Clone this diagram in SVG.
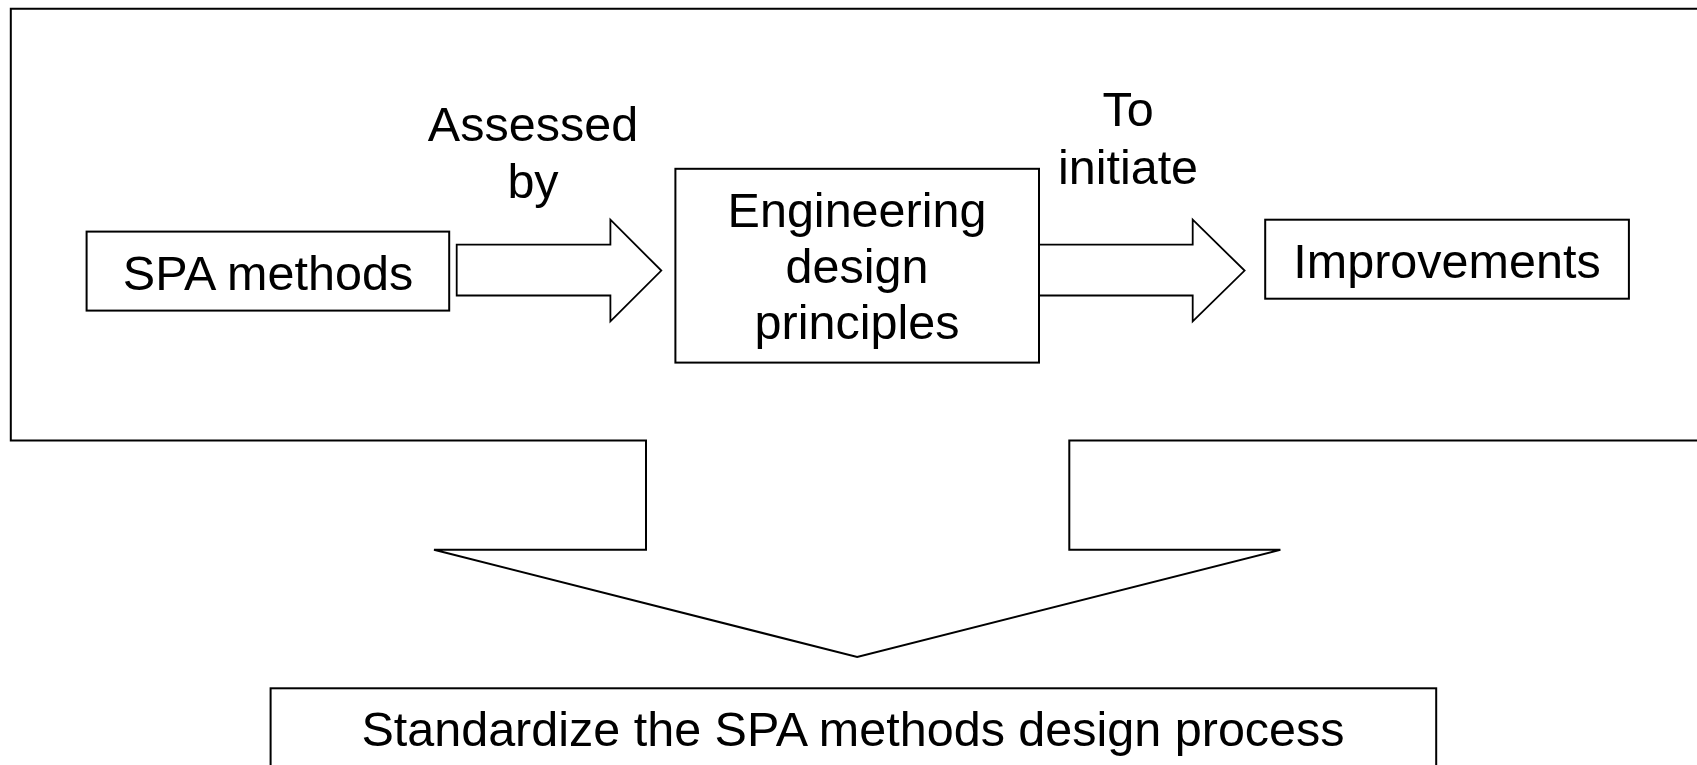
<svg xmlns="http://www.w3.org/2000/svg" width="1697" height="765" viewBox="0 0 1697 765">
  <style>
    .box { fill: #fff; stroke: #000; stroke-width: 2; }
    .arrow { fill: #fff; stroke: #000; stroke-width: 1.8; stroke-linejoin: miter; }
    .lbl { font-family: "Liberation Sans", Arial, sans-serif; font-size: 48.5px; fill: #000; text-anchor: middle; }
  </style>
  <rect width="1697" height="765" fill="#fff"/>

  <!-- outer frame merged with the downward block arrow -->
  <g id="frame">
    <path class="box" d="M646,440.5 H10.8 V8.7 H1720 V440.5 H1069.3 V549.8 H1280.4 L857.2,657 L434,549.8 H646 Z"/>
  </g>

  <!-- block arrows between the nodes -->
  <g id="connectors">
    <path class="arrow" d="M456.7,244.6 H610.4 V219.7 L661.3,270.6 L610.4,321.4 V295.5 H456.7 Z"/>
    <path class="arrow" d="M1039,244.6 H1192.7 V219.7 L1244.6,270.6 L1192.7,321.4 V295.5 H1039"/>
    <text class="lbl" x="533" y="141">Assessed</text>
    <text class="lbl" x="533" y="198">by</text>
    <text class="lbl" x="1128" y="126">To</text>
    <text class="lbl" x="1128" y="184">initiate</text>
  </g>

  <g id="spa-methods">
    <rect class="box" x="86.6" y="231.6" width="362.6" height="79"/>
    <text class="lbl" x="268" y="290">SPA methods</text>
  </g>

  <g id="engineering-principles">
    <rect class="box" x="675.4" y="168.8" width="363.6" height="193.8"/>
    <text class="lbl" x="857" y="227">Engineering</text>
    <text class="lbl" x="857" y="283">design</text>
    <text class="lbl" x="857" y="339">principles</text>
  </g>

  <g id="improvements">
    <rect class="box" x="1265.2" y="219.7" width="363.7" height="79"/>
    <text class="lbl" x="1447" y="278">Improvements</text>
  </g>

  <g id="standardize">
    <rect class="box" x="270.6" y="688.3" width="1165.6" height="100"/>
    <text class="lbl" x="853" y="746">Standardize the SPA methods design process</text>
  </g>
</svg>
